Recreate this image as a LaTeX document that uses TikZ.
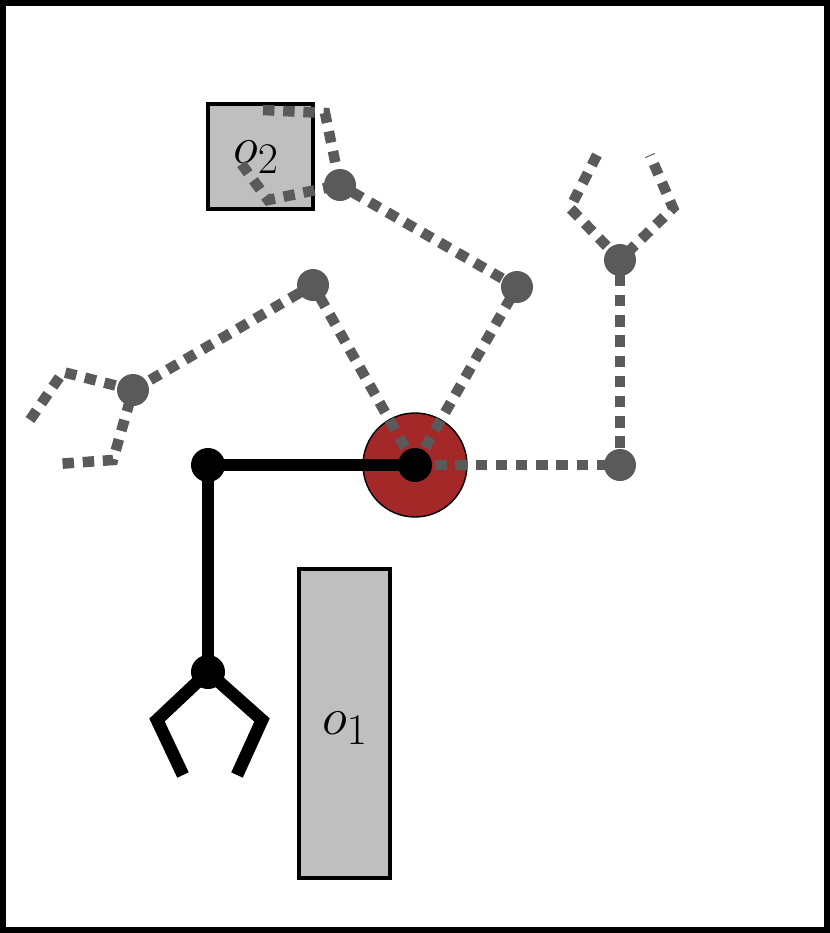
\documentclass[tikz,border=0pt]{standalone}
\usepackage{xcolor}
\definecolor{basered}{RGB}{165,40,40}
\definecolor{ghost}{RGB}{90,90,90}
\tikzset{
    link/.style={line width=7.2pt, black},
    ghostlink/.style={line width=6pt, ghost, dash pattern=on 6.5pt off 5pt},
    obstacle/.style={draw, line width=2.8pt, fill=black!25!white},
}
\newcommand{\jr}{17}

\begin{document}
\begin{tikzpicture}[x=0.02cm, y=-0.02cm]
        \useasboundingbox (0,0) rectangle (830,933);
        \draw[line width=3.4pt] (3,3) rectangle (827,930);
        % obstacles
        \node[obstacle, minimum width=1.82cm, minimum height=6.18cm] (o1) at (344.5,723.5) {};
        \node[obstacle, minimum width=2.1cm, minimum height=2.1cm] (o2) at (260.5,156.5) {};
        \node at (345,728) {\scalebox{1.2}{\Huge $o_1$}};
        \node at (256,157) {\scalebox{1.2}{\Huge $o_2$}};
        % base
        \fill[basered, draw=black, line width=0.8pt] (415,465) circle (52);
        \coordinate (B) at (415,465);
        % ghost configurations
        \coordinate (A1) at (620,465);
        \coordinate (A2) at (620,260);
        \coordinate (C1) at (517,287);
        \coordinate (C2) at (340,185);
        \coordinate (D1) at (313,285);
        \coordinate (D2) at (133,390);
        \draw[ghostlink] (B) -- (A1) -- (A2);
        \draw[ghostlink] (597,155) -- (570,208) -- (A2) -- (673,208) -- (650,155);
        \draw[ghostlink] (B) -- (C1) -- (C2);
        \draw[ghostlink] (263,110) -- (325,113) -- (C2) -- (268,200) -- (240,162);
        \draw[ghostlink] (B) -- (D1) -- (D2);
        \draw[ghostlink] (30,420) -- (63,372) -- (D2) -- (113,460) -- (57,464);
        \foreach \p in {A1, A2, C1, C2, D1, D2} {
            \fill[ghost] (\p) circle (16);
        }
        % robot
        \coordinate (J1) at (208,465);
        \coordinate (J2) at (208,672);
        \draw[link] (B) -- (J1) -- (J2);
        \draw[link] (183,775) -- (157,720) -- (J2) -- (262,720) -- (237,775);
        \foreach \p in {B, J1, J2} {
            \fill (\p) circle (\jr);
        }
    \end{tikzpicture}
\end{document}
